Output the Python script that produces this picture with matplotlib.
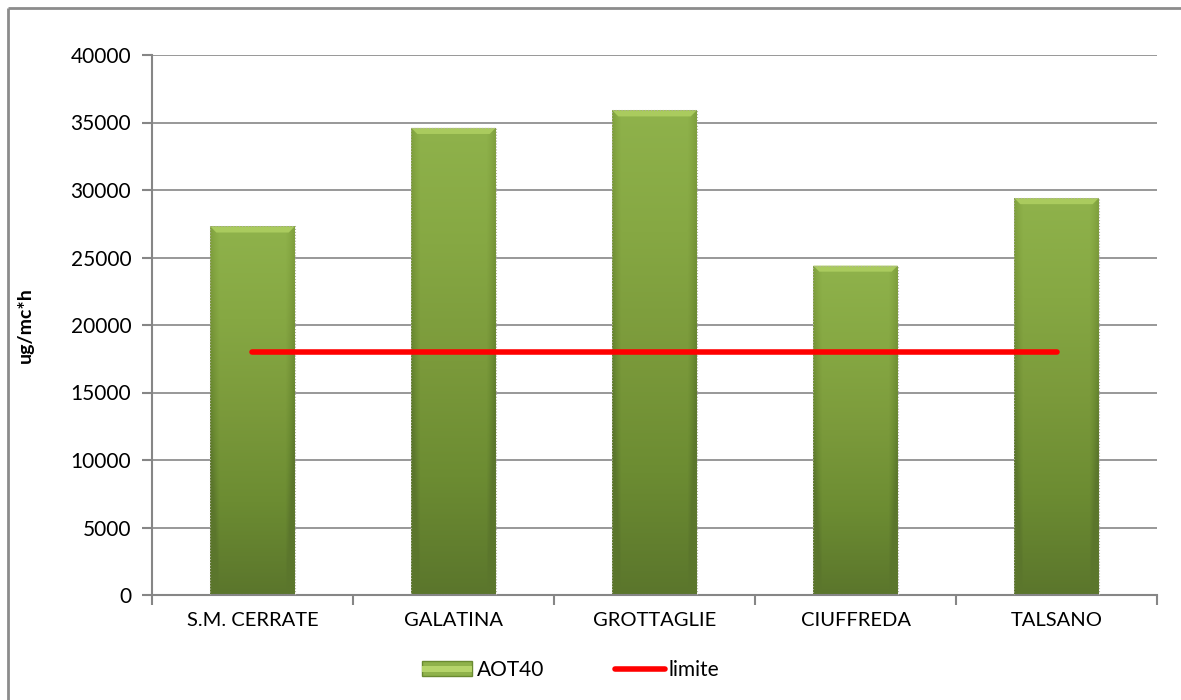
import numpy as np
import matplotlib.pyplot as plt
from matplotlib.colors import LinearSegmentedColormap
from matplotlib.patches import Rectangle
from matplotlib.lines import Line2D
from matplotlib.legend_handler import HandlerPatch

plt.rcParams['font.family'] = ['Lato', 'DejaVu Sans']

stations = ['S.M. CERRATE', 'GALATINA', 'GROTTAGLIE', 'CIUFFREDA', 'TALSANO']
aot40 = [27300, 34600, 35900, 24400, 29400]
limite = [18000, 18000, 18000, 18000, 18000]
y_ticks = [0, 5000, 10000, 15000, 20000, 25000, 30000, 35000, 40000]

green = LinearSegmentedColormap.from_list(
    'aot', ['#5b762c', '#6c8c32', '#7b9a3b', '#86a843', '#8fb24b'])


def shade(nx=40, ny=200):
    # vertical ramp plus darker left/right edges
    v = np.linspace(0, 1, ny)[:, None]
    h = np.linspace(-1, 1, nx)[None, :]
    edge = np.clip((np.abs(h) - 0.8) / 0.2, 0, 1)
    return np.clip(v - 0.35 * edge, 0, 1)


fig = plt.figure(figsize=(11.81, 7.0), dpi=100)
fig.patch.set_edgecolor('white')
fig.patch.set_linewidth(0)
# outer chart frame: left and top edges
fx, fy = 7.5 / 1181, 1 - 8 / 700
fig.add_artist(Line2D([fx, fx], [0, fy], transform=fig.transFigure,
                      color='#8c8c8c', linewidth=2, solid_capstyle='butt'))
fig.add_artist(Line2D([fx, 1.0], [fy, fy], transform=fig.transFigure,
                      color='#8c8c8c', linewidth=2, solid_capstyle='butt'))
ax = fig.add_axes([152 / 1181, 105 / 700, 1005 / 1181, 540 / 700])

x = np.arange(len(stations))
bw = 0.42
img = shade()
for xi, val in zip(x, aot40):
    bar = Rectangle((xi - bw / 2, 0), bw, val, facecolor='none',
                    edgecolor='#b0b0a0', linewidth=0.8, linestyle=':', zorder=3)
    ax.add_patch(bar)
    im = ax.imshow(img, cmap=green, origin='lower', aspect='auto',
                   extent=(xi - bw / 2, xi + bw / 2, 0, val), zorder=2,
                   interpolation='bilinear')
    im.set_clip_path(bar)
    # light bevel along the top
    ax.fill([xi - bw / 2, xi + bw / 2, xi + bw / 2 - 0.03, xi - bw / 2 + 0.03],
            [val, val, val - 450, val - 450], color='#aacb5e', zorder=2.5, lw=0)

ax.plot(x, limite, color='#ff0000', linewidth=4, zorder=4, solid_capstyle='round')

ax.set_xlim(-0.5, len(stations) - 0.5)
ax.set_ylim(0, 40000)
ax.set_yticks(y_ticks)
ax.set_yticklabels([str(v) for v in y_ticks], fontsize=15)
ax.set_xticks(np.arange(-0.5, len(stations), 1))
ax.set_xticklabels([])
ax.set_xticks(x, minor=True)
ax.set_xticklabels(stations, minor=True, fontsize=14.5)
ax.tick_params(axis='x', which='minor', length=0, pad=12)
ax.tick_params(axis='y', pad=8)
ax.tick_params(axis='both', which='major', length=7, width=1.5, color='#868686',
               direction='out')
ax.grid(axis='y', color='#868686', linewidth=1.2, zorder=0)
ax.set_axisbelow(True)
for side in ['top', 'right']:
    ax.spines[side].set_visible(False)
for side in ['left', 'bottom']:
    ax.spines[side].set_color('#868686')
    ax.spines[side].set_linewidth(1.5)
ax.set_ylabel('ug/mc*h', fontsize=14, fontweight='bold')
ax.yaxis.set_label_coords(-0.118, 0.5)


class GradientHandler(HandlerPatch):
    def create_artists(self, legend, orig_handle, xdescent, ydescent,
                       width, height, fontsize, trans):
        r = Rectangle((-xdescent, -ydescent), width, height, transform=trans,
                      facecolor='#8fb24b', edgecolor='#6a8a30', linewidth=1)
        r2 = Rectangle((-xdescent, -ydescent + height * 0.3), width, height * 0.4,
                       transform=trans, facecolor='#b5d46a', linewidth=0)
        return [r, r2]


handles = [Rectangle((0, 0), 1, 1), Line2D([], [], color='#ff0000', linewidth=4,
                                           solid_capstyle='round')]
fig.legend(handles, ['AOT40', 'limite'], loc='center',
           bbox_to_anchor=(571 / 1181, 30 / 700),
           ncol=2, frameon=False, fontsize=15, handlelength=2.4, handletextpad=0.2,
           columnspacing=3.4, handler_map={Rectangle: GradientHandler()})

fig.savefig('out.png', dpi=100)
